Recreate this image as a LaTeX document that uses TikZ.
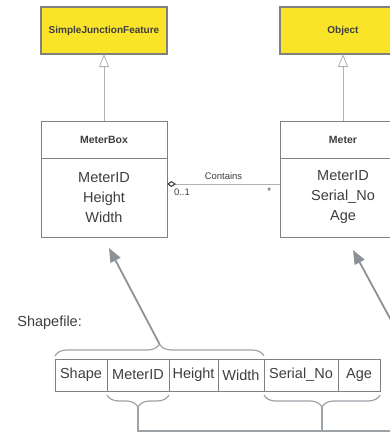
\documentclass[tikz,border=0pt]{standalone}
\usepackage{fontspec}
\setmainfont{Liberation Sans}
\usetikzlibrary{arrows.meta, positioning, calc, decorations.pathreplacing}

\definecolor{featyellow}{RGB}{249,228,42}
\definecolor{boxline}{RGB}{128,128,128}
\definecolor{ink}{RGB}{62,62,62}
\definecolor{pointer}{RGB}{140,146,152}

\begin{document}
\begin{tikzpicture}[
  x=1pt, y=-1pt,
  every node/.style={text=ink, outer sep=0pt},
  featbox/.style={draw=boxline, line width=1.2pt, fill=featyellow,
                  minimum width=126pt, minimum height=47pt,
                  font=\fontsize{10}{12}\selectfont\bfseries},
  cls/.style={draw=boxline, line width=1pt, fill=white, minimum width=126pt,
              minimum height=37pt, font=\fontsize{10.5}{12}\selectfont\bfseries},
  attrs/.style={draw=boxline, line width=1pt, fill=white, minimum width=126pt,
                minimum height=79pt, align=center,
                font=\fontsize{14.5}{20}\selectfont},
  cell/.style={draw=boxline, line width=0.8pt, minimum height=32pt,
               inner xsep=1pt, font=\fontsize{14.5}{17}\selectfont},
  tag/.style={font=\fontsize{9.5}{11}\selectfont, inner sep=1pt},
  gen/.style={draw=black!30, line width=0.8pt,
              -{Triangle[open, length=13pt, width=10pt]}},
  assoc/.style={draw=black!30, line width=0.8pt},
  ptr/.style={draw=pointer, line width=1.8pt,
              -{Triangle[length=14pt, width=11pt]}},
  brc/.style={draw=pointer!85, line width=1.2pt, decorate,
              decoration={brace, amplitude=12pt}},
  link/.style={draw=pointer!85, line width=1.2pt},
]
\useasboundingbox (0,0) rectangle (390,432);
\clip (0,0) rectangle (390,432);

% superclasses
\node[featbox] (sjf) at (104,30.5) {SimpleJunctionFeature};
\node[featbox] (obj) at (343,30.5) {Object};

% classes
\node[cls] (mbox) at (104,139.5) {MeterBox};
\node[attrs, below=0pt of mbox] (mboxA) {MeterID\\Height\\Width};
\node[cls] (meter) at (343,139.5) {Meter};
\node[attrs, below=0pt of meter] (meterA) {MeterID\\Serial\_No\\Age};

\draw[gen] (mbox) -- (sjf);
\draw[gen] (meter) -- (obj);

\draw[assoc, {Diamond[open, length=9pt, width=6pt, color=black!75, line width=1.1pt]}-]
  ([yshift=13.5pt]mboxA.east) -- ([yshift=13.5pt]meterA.west)
  node[tag, pos=0.5, above=3pt] {Contains}
  node[tag, pos=0, below right=4pt and 6pt] {0..1}
  node[tag, pos=1, below left=3pt and 8pt] {*};

% shapefile table
\node[font=\fontsize{14.5}{17}\selectfont, anchor=west] (shpfile) at (14,323) {Shapefile:};
\node[cell, minimum width=52pt] (shp) at (81,375) {Shape};
\node[cell, minimum width=62pt, right=0pt of shp] (mid) {MeterID};
\node[cell, minimum width=49pt, right=0pt of mid] (hgt) {Height};
\node[cell, minimum width=46pt, right=0pt of hgt] (wid) {Width};
\node[cell, minimum width=74pt, right=0pt of wid] (ser) {Serial\_No};
\node[cell, minimum width=42pt, right=0pt of ser] (age) {Age};

% braces over and under the columns
\draw[brc] ([yshift=3pt]shp.north west) -- ([yshift=3pt]wid.north east);
\draw[brc] ([yshift=-4pt]mid.south east) -- ([yshift=-4pt]mid.south west);
\draw[brc] ([yshift=-4pt]age.south east) -- ([yshift=-4pt]ser.south west);

\coordinate (topcusp) at ($([yshift=15pt]shp.north west)!0.5!([yshift=15pt]wid.north east)$);
\coordinate (midcusp) at ($([yshift=-16pt]mid.south west)!0.5!([yshift=-16pt]mid.south east)$);
\coordinate (sercusp) at ($([yshift=-16pt]ser.south west)!0.5!([yshift=-16pt]age.south east)$);
\coordinate (join) at (451,431);

\draw[link] (midcusp) |- (join);
\draw[link] (sercusp) -- (sercusp |- join);

\draw[ptr] (topcusp) -- ([xshift=5pt,yshift=-11pt]mboxA.south);
\draw[ptr] (join) -- ([xshift=10pt,yshift=-13pt]meterA.south);
\end{tikzpicture}
\end{document}
